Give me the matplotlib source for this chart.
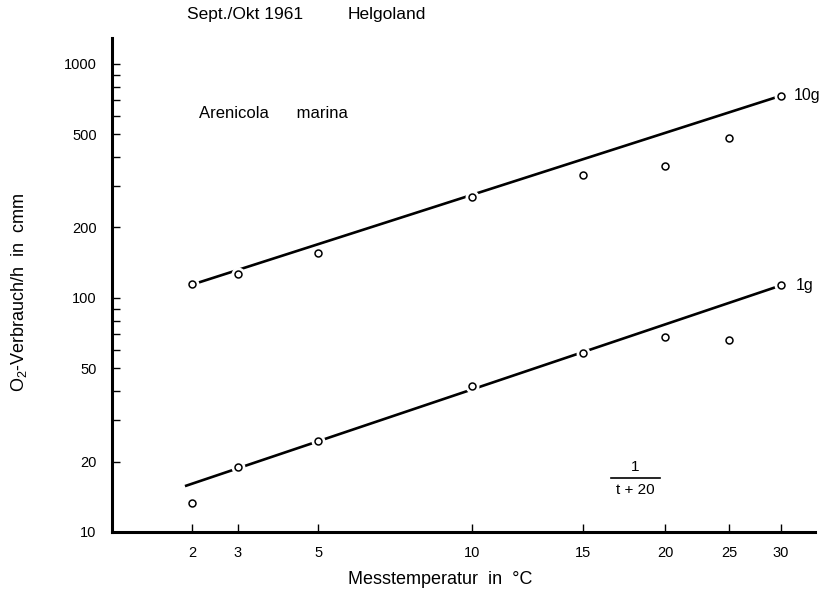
import numpy as np
import matplotlib
matplotlib.use("Agg")
import matplotlib.pyplot as plt
from matplotlib.ticker import FixedLocator, LogLocator, NullFormatter, NullLocator

plt.rcParams['font.family'] = ['Liberation Sans', 'DejaVu Sans']
plt.rcParams['mathtext.fontset'] = 'custom'
plt.rcParams['mathtext.rm'] = 'Liberation Sans'

# Messtemperaturen (°C) und O2-Verbrauch (cmm/h)
temps = [2, 3, 5, 10, 15, 20, 25, 30]
o2_10g = [115, 127, 156, 270, 336, 366, 484, 730]
o2_1g = [13.3, 18.9, 24.4, 42.1, 58.0, 68.3, 66.1, 113]

# Ausgleichsgeraden (Endpunkte)
fit_t_10g = [2, 30]
fit_10g = [114, 730]
fit_t_1g = [1.85, 30]
fit_1g = [15.7, 113]

y_major = [10, 20, 50, 100, 200, 500, 1000]


def fwd(t):
    with np.errstate(divide='ignore', invalid='ignore'):
        return -1.0 / (np.asarray(t, dtype=float) + 20.0)


def inv(u):
    with np.errstate(divide='ignore', invalid='ignore'):
        return -1.0 / np.asarray(u, dtype=float) - 20.0


fig = plt.figure(figsize=(8.3, 5.92), dpi=100)
ax = fig.add_axes([0.1349, 0.1014, 0.847, 0.8345])

ax.set_xscale('function', functions=(fwd, inv))
ax.set_yscale('log')
ax.set_xlim(0.44, 34)
ax.set_ylim(10, 1290)

for t, v in ((fit_t_10g, fit_10g), (fit_t_1g, fit_1g)):
    ax.plot(t, v, color='black', lw=1.9, solid_capstyle='butt', zorder=2)

for vals in (o2_10g, o2_1g):
    # weisser Hof, damit die Gerade am Kreis unterbrochen wirkt
    ax.plot(temps, vals, ls='none', marker='o', ms=9, mfc='white',
            mec='white', zorder=3)
    ax.plot(temps, vals, ls='none', marker='o', ms=5, mfc='white',
            mec='black', mew=1.1, zorder=4)

ax.annotate('10g', xy=(temps[-1], o2_10g[-1]), xytext=(13, 0),
            textcoords='offset pixels', va='center', ha='left', fontsize=11.5)
ax.annotate('1g', xy=(temps[-1], o2_1g[-1]), xytext=(15, 0),
            textcoords='offset pixels', va='center', ha='left', fontsize=11.5)

ax.spines['top'].set_visible(False)
ax.spines['right'].set_visible(False)
ax.spines['left'].set_linewidth(2.2)
ax.spines['bottom'].set_linewidth(2.2)

ax.xaxis.set_major_locator(FixedLocator(temps))
ax.xaxis.set_minor_locator(NullLocator())
ax.set_xticklabels([str(t) for t in temps])

ax.yaxis.set_major_locator(FixedLocator(y_major))
ax.yaxis.set_minor_locator(LogLocator(base=10, subs=(3, 4, 6, 7, 8, 9)))
ax.yaxis.set_minor_formatter(NullFormatter())
ax.set_yticklabels([str(v) for v in y_major])

ax.tick_params(which='both', direction='in', length=6, width=1.0,
               labelsize=10.5)
ax.tick_params(axis='y', which='major', pad=11)
ax.tick_params(axis='x', which='major', pad=10)

ax.set_xlabel('Messtemperatur  in  °C', fontsize=13)
ax.xaxis.set_label_coords(0.467, -0.08)
ax.set_ylabel(r'O$_\mathregular{2}$-Verbrauch/h  in  cmm', fontsize=13)
ax.yaxis.set_label_coords(-0.118, 0.486)

ax.text(0.124, 0.848, 'Arenicola      marina', transform=ax.transAxes,
        fontsize=12, va='center', ha='left')

# Bruch 1/(t+20) als Hinweis auf die Abszissenteilung
ax.text(0.7447, 0.1316, '1', transform=ax.transAxes, fontsize=11,
        ha='center', va='center')
ax.plot([0.7098, 0.7795], [0.1093, 0.1093], transform=ax.transAxes,
        color='black', lw=1.2, clip_on=False)
ax.text(0.7447, 0.085, 't + 20', transform=ax.transAxes, fontsize=11,
        ha='center', va='center')

fig.text(187 / 830, 1 - 15 / 592, 'Sept./Okt 1961', fontsize=12.5,
         va='center', ha='left')
fig.text(348 / 830, 1 - 15 / 592, 'Helgoland', fontsize=12.5,
         va='center', ha='left')

fig.savefig('out.png', dpi=100)
